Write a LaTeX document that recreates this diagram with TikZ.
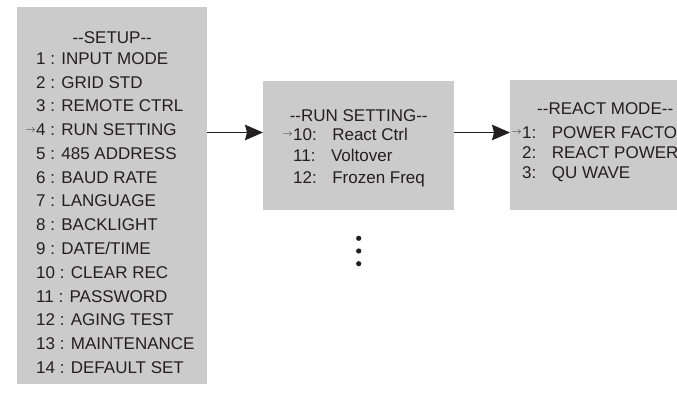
\documentclass[tikz,border=0pt]{standalone}
\usepackage{fontspec}
\setmainfont{Liberation Sans}
\usepackage{xcolor}
\usepackage{tikz}
\usetikzlibrary{positioning, arrows.meta}
\definecolor{cPanel}{HTML}{CBCBCB}
\definecolor{cInk}{HTML}{231F20}
\newcommand{\selmark}{\llap{\raisebox{3.5pt}{\fontsize{10}{10}\selectfont$\rightarrow$}\hspace{0.5pt}}}
\newcommand{\gapsep}{\hspace{15.5pt}}

\begin{document}
\begin{tikzpicture}[x=1pt, y=-1pt,
  font=\fontsize{17}{23.77}\selectfont,
  >={Stealth[length=18pt,width=15.5pt,inset=2pt]},
  panel/.style={fill=cPanel, draw=none, inner sep=0pt, anchor=north west},
  ttl/.style={text=cInk, inner sep=0pt, anchor=base},
  lst/.style={text=cInk, inner sep=0pt, anchor=north west, align=left},
  flow/.style={->, line width=1.4pt, draw=cInk, fill=cInk}
]
\useasboundingbox (0,0) rectangle (677,393);

\node[panel, minimum width=190pt, minimum height=377pt] (setup) at (17,7) {};
\node[panel, minimum width=191pt, minimum height=129pt] (runset) at (263,81) {};
\node[panel, minimum width=190pt, minimum height=130pt] (react) at (510,80) {};

\node[ttl] (setupT) at (setup.north |- 0,43.5) {-{}-SETUP-{}-};
\node[lst] (setupL) at (36,52.3)
  {1 : INPUT MODE\\2 : GRID STD\\3 : REMOTE CTRL\\\selmark4 : RUN SETTING\\
   5 : 485 ADDRESS\\6 : BAUD RATE\\7 : LANGUAGE\\8 : BACKLIGHT\\9 : DATE/TIME\\
   10 : CLEAR REC\\11 : PASSWORD\\12 : AGING TEST\\13 : MAINTENANCE\\14 : DEFAULT SET};

\node[ttl] (runsetT) at (runset.north |- 0,122) {-{}-RUN SETTING-{}-};
\node[lst, font=\fontsize{17}{21.5}\selectfont] (runsetL) at (293,127.8)
  {\selmark10:\gapsep React Ctrl\\11:\gapsep Voltover\\12:\gapsep Frozen Freq};

\node[ttl] (reactT) at (react.north |- 0,115) {-{}-REACT MODE-{}-};
\node[lst, font=\fontsize{17}{20.25}\selectfont] (reactL) at (522,126.3)
  {\selmark1:\gapsep POWER FACTOR\\2:\gapsep REACT POWER\\3:\gapsep QU WAVE};

\coordinate (sel) at (0,132.5);
\draw[flow] (setup.east |- sel) -- (runset.west |- sel);
\draw[flow] (runset.east |- sel) -- (react.west |- sel);

% more entries below
\coordinate (more) at (runset.south |- 0,251);
\fill[cInk] (more) ++(0,-12.7) circle (2.6pt) (more) circle (2.6pt) (more) ++(0,12.7) circle (2.6pt);
\end{tikzpicture}
\end{document}
